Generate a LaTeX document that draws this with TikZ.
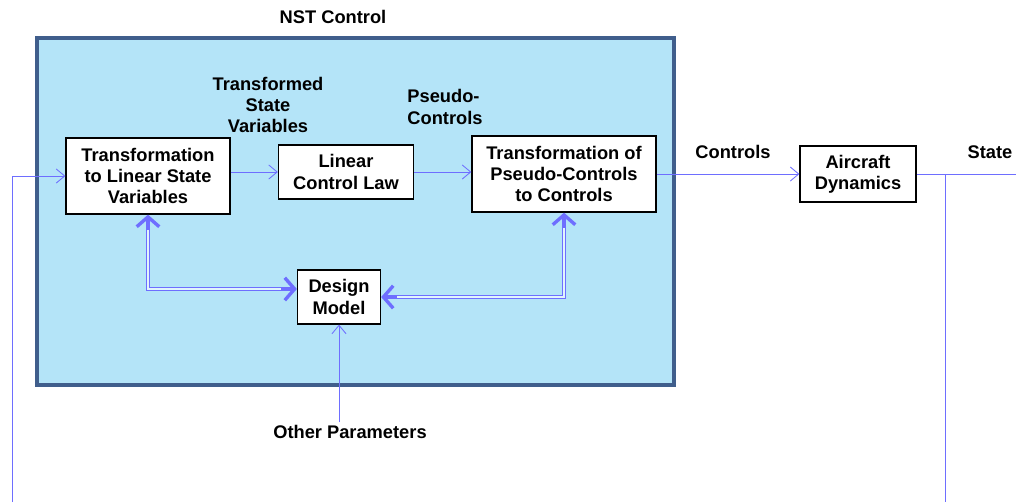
\documentclass[tikz,border=0pt]{standalone}
\usepackage{fontspec}
\setmainfont{Liberation Sans}
\usetikzlibrary{arrows.meta,positioning}
\definecolor{flowblue}{RGB}{110,110,255}
\definecolor{nstfill}{RGB}{180,228,248}
\definecolor{nstframe}{RGB}{64,94,140}

\begin{document}
\begin{tikzpicture}[x=0.025cm,y=-0.025cm,font=\bfseries\fontsize{13}{15}\selectfont,align=center,
		block/.style={draw,fill=white,line width=0.9pt,inner sep=2pt},
		flow/.style={draw=flowblue,line width=0.6pt,-{Straight Barb[length=6pt,width=10pt]}},
		link/.style={draw=flowblue,line width=2.6pt,
			{Straight Barb[length=7pt,width=16pt,line width=2.4pt 0]}-{Straight Barb[length=7pt,width=16pt,line width=2.4pt 0]},
			postaction={draw=nstfill!40!white,line width=1.1pt,-,shorten <=11pt,shorten >=11pt}}]
		\useasboundingbox (0,0) rectangle (1016,502);
		\draw[fill=nstfill,draw=nstframe,line width=2.8pt] (37,38) rectangle (674,385);

		\node                                       (NSTLabel)    at (333,17)  {NST Control};
		\node                                       (TransLabel)  at (268,105) {Transformed\\State\\Variables};
		\node[align=left]                           (PseudoLabel) at (445,107) {Pseudo-\\Controls};
		\node                                       (CtrlLabel)   at (733,152) {Controls};
		\node                                       (StateLabel)  at (990,152) {State};
		\node                                       (OtherParams) at (350,432) {Other Parameters};

		\node[block,minimum width=4.1cm,minimum height=1.9cm]   (TransLinear) at (148,176) {Transformation\\to Linear State\\Variables};
		\node[block,minimum width=3.375cm,minimum height=1.35cm] (LinearLaw)   at (346,172) {Linear\\Control Law};
		\node[block,minimum width=4.6cm,minimum height=1.9cm]   (TransPseudo) at (564,174) {Transformation of\\Pseudo-Controls\\to Controls};
		\node[block,minimum width=2.9cm,minimum height=1.4cm]   (Aircraft)    at (858,174) {Aircraft\\Dynamics};
		\node[block,minimum width=2.075cm,minimum height=1.35cm] (DesignModel) at (339,297) {Design\\Model};

		\coordinate (FeedIn)    at (12,502);
		\coordinate (StateOut)  at (1016,174);
		\coordinate (StateDown) at (945,502);

		\path[flow] (FeedIn) |- (TransLinear.west);
		\path[flow] (LinearLaw.west -| TransLinear.east) -- (LinearLaw.west);
		\path[flow] (LinearLaw.east) -- (LinearLaw.east -| TransPseudo.west);
		\path[flow] (TransPseudo.east) -- (Aircraft.west);
		\draw[flowblue,line width=0.6pt] (Aircraft.east) -- (StateOut)
		          (Aircraft.east -| StateDown) -- (StateDown);
		\path[flow] ([yshift=-0.05cm]OtherParams.north -| DesignModel.south) -- (DesignModel.south);

		\path[link] (TransLinear.south) |- ([yshift=0.2cm]DesignModel.west);
		\path[link] (TransPseudo.south) |- (DesignModel.east);
	\end{tikzpicture}
\end{document}
